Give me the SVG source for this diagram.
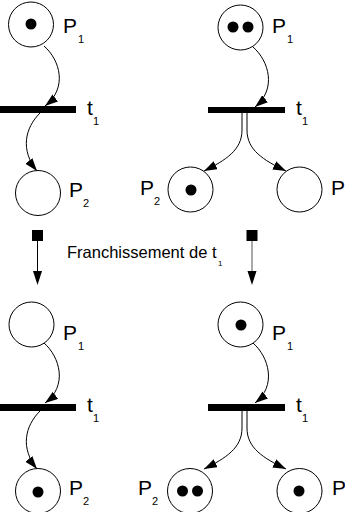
<svg xmlns="http://www.w3.org/2000/svg" width="345" height="512" viewBox="0 0 345 512">
<style>
.pl{fill:#fff;stroke:#000;stroke-width:1}
.tk{fill:#000}
.tr{fill:#000}
.arc{fill:none;stroke:#000;stroke-width:1}
.lb{font-family:"Liberation Sans",Arial,sans-serif;font-size:21px;fill:#000}
.sb{font-family:"Liberation Sans",Arial,sans-serif;font-size:11px;fill:#000}
.tx{font-family:"Liberation Sans",Arial,sans-serif;font-size:16.5px;fill:#000}
</style>
<defs>
<marker id="ah" markerUnits="userSpaceOnUse" markerWidth="14" markerHeight="10" refX="13" refY="4.5" orient="auto">
<path d="M0,0 L13,4.5 L0,9 z" fill="#000"/>
</marker>
</defs>
<rect width="345" height="512" fill="#fff"/>

<g id="connectors">
<path class="arc" d="M44,46 C60,60 68,88 45,106" marker-end="url(#ah)"/>
<path class="arc" d="M40,113 C25,128 20,150 37,171" marker-end="url(#ah)"/>
<path class="arc" d="M253,47 C269,61 277,89 255,107" marker-end="url(#ah)"/>
<path class="arc" d="M242,113 L242,130 C242,150 226,160 204,171" marker-end="url(#ah)"/>
<path class="arc" d="M247,113 L247,130 C247,150 263,160 286,171" marker-end="url(#ah)"/>
<path class="arc" d="M44,343 C60,357 68,386 45,403" marker-end="url(#ah)"/>
<path class="arc" d="M40,411 C25,426 20,448 37,469" marker-end="url(#ah)"/>
<path class="arc" d="M253,343 C269,357 277,386 255,403" marker-end="url(#ah)"/>
<path class="arc" d="M242,411 L242,428 C242,448 226,458 204,469" marker-end="url(#ah)"/>
<path class="arc" d="M247,411 L247,428 C247,448 263,458 286,469" marker-end="url(#ah)"/>
</g>

<g id="firing-left">
<rect x="32" y="230" width="11" height="11" fill="#000"/>
<line x1="37.5" y1="241" x2="37.5" y2="272" stroke="#000" stroke-width="1"/>
<path d="M33,271 L37.5,285 L42,271 z" fill="#000"/>
</g>
<g id="firing-right">
<rect x="246.5" y="230" width="11" height="11" fill="#000"/>
<line x1="252" y1="241" x2="252" y2="272" stroke="#555" stroke-width="1"/>
<path d="M247.5,271 L252,285 L256.5,271 z" fill="#000"/>
</g>
<g id="firing-label">
<text class="tx" x="67" y="258">Franchissement de t</text>
<text class="sb" x="218" y="266" style="font-size:8px">1</text>
</g>

<!-- top left net -->
<g id="tl-p1">
<circle class="pl" cx="31" cy="24.5" r="22.5"/>
<circle class="tk" cx="31" cy="24" r="5.5"/>
<text class="lb" x="63" y="33">P</text><text class="sb" x="78" y="43">1</text>
</g>
<g id="tl-t1">
<rect class="tr" x="0" y="106" width="76" height="7"/>
<text class="lb" x="87" y="115">t</text><text class="sb" x="93" y="125">1</text>
</g>
<g id="tl-p2">
<circle class="pl" cx="38" cy="193" r="22.5"/>
<text class="lb" x="69" y="197">P</text><text class="sb" x="83" y="207">2</text>
</g>

<!-- top right net -->
<g id="tr-p1">
<circle class="pl" cx="240.5" cy="27.5" r="22.5"/>
<circle class="tk" cx="233" cy="27" r="5.5"/>
<circle class="tk" cx="248" cy="27" r="5.5"/>
<text class="lb" x="272" y="33">P</text><text class="sb" x="287" y="43">1</text>
</g>
<g id="tr-t1">
<rect class="tr" x="208" y="107" width="77" height="6"/>
<text class="lb" x="296" y="115">t</text><text class="sb" x="302" y="125">1</text>
</g>
<g id="tr-p2">
<circle class="pl" cx="190.5" cy="189.5" r="22.5"/>
<circle class="tk" cx="191" cy="190" r="5.5"/>
<text class="lb" x="140" y="195">P</text><text class="sb" x="154" y="205">2</text>
</g>
<g id="tr-p3">
<circle class="pl" cx="299.5" cy="189.5" r="22.5"/>
<text class="lb" x="331" y="195">P</text><text class="sb" x="345" y="205">3</text>
</g>

<!-- bottom left net -->
<g id="bl-p1">
<circle class="pl" cx="31.5" cy="324.5" r="22.5"/>
<text class="lb" x="63" y="340">P</text><text class="sb" x="78" y="350">1</text>
</g>
<g id="bl-t1">
<rect class="tr" x="0" y="404" width="76" height="7"/>
<text class="lb" x="87" y="412">t</text><text class="sb" x="93" y="422">1</text>
</g>
<g id="bl-p2">
<circle class="pl" cx="38" cy="491" r="22.5"/>
<circle class="tk" cx="38" cy="492" r="5.5"/>
<text class="lb" x="69" y="495">P</text><text class="sb" x="83" y="505">2</text>
</g>

<!-- bottom right net -->
<g id="br-p1">
<circle class="pl" cx="240.5" cy="324.5" r="22.5"/>
<circle class="tk" cx="241" cy="325" r="5.5"/>
<text class="lb" x="272" y="340">P</text><text class="sb" x="287" y="350">1</text>
</g>
<g id="br-t1">
<rect class="tr" x="208" y="404" width="77" height="7"/>
<text class="lb" x="296" y="412">t</text><text class="sb" x="302" y="422">1</text>
</g>
<g id="br-p2">
<circle class="pl" cx="190" cy="491" r="22.5"/>
<circle class="tk" cx="182.5" cy="491" r="5.5"/>
<circle class="tk" cx="197.5" cy="491" r="5.5"/>
<text class="lb" x="138" y="495">P</text><text class="sb" x="152" y="505">2</text>
</g>
<g id="br-p3">
<circle class="pl" cx="299.5" cy="491" r="22.5"/>
<circle class="tk" cx="299" cy="491" r="5.5"/>
<text class="lb" x="332" y="495">P</text><text class="sb" x="346" y="505">3</text>
</g>
</svg>
